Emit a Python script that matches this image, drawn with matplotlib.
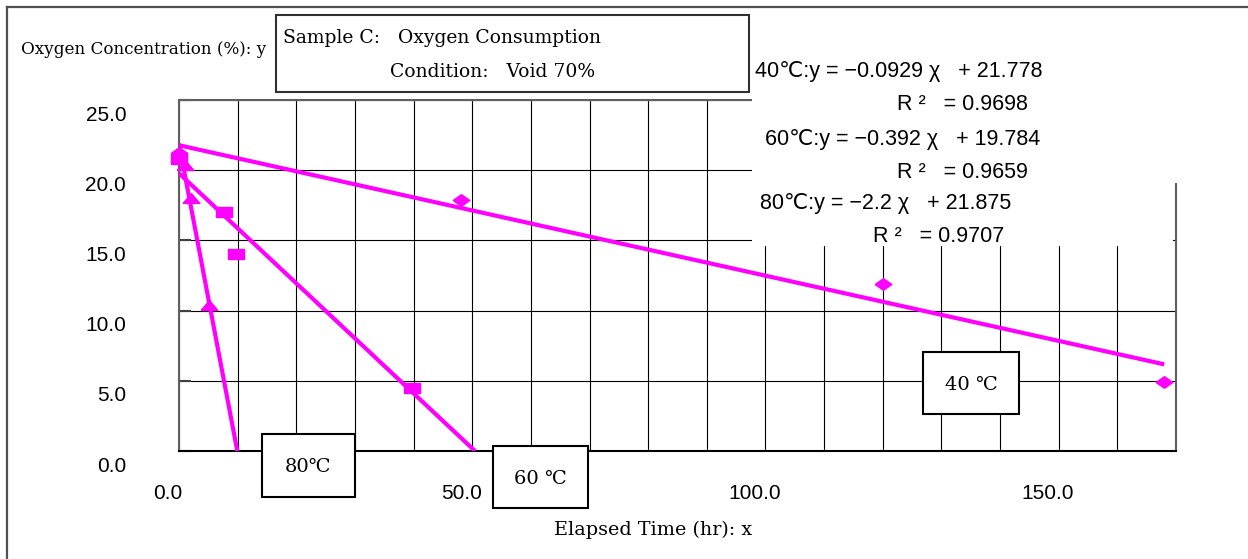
import numpy as np
import matplotlib
matplotlib.use("Agg")
import matplotlib.pyplot as plt
from matplotlib.patches import Rectangle
from matplotlib.lines import Line2D
from matplotlib.path import Path
import matplotlib.transforms as mtransforms

t40 = [0, 48, 120, 168]
o40 = [21.2, 17.9, 11.9, 4.9]
t60 = [0, 7.6, 9.7, 39.7]
o60 = [20.8, 17.0, 14.0, 4.5]
t80 = [1.0, 2.0, 5.1]
o80 = [20.4, 18.0, 10.4]

# trendline coefficients (from the chart equations)
slopes = [-0.0929, -0.392, -2.2]
intercepts = [21.778, 19.784, 21.875]
trend_end = [168, 50.5, 9.95]

x_ticks = [0, 50, 100, 150]
y_ticks = [0, 5, 10, 15, 20, 25]

eq_lines = ["40\u2103:y = \u22120.0929 \u03c7   + 21.778",
            "R \u00b2   = 0.9698",
            "60\u2103:y = \u22120.392 \u03c7   + 19.784",
            "R \u00b2   = 0.9659",
            "80\u2103:y = \u22122.2 \u03c7   + 21.875",
            "R \u00b2   = 0.9707"]

W, H = 1248, 559
magenta = "#FF00FF"
sans = ["Liberation Sans", "DejaVu Sans"]
serif = ["DejaVu Serif", "DejaVu Sans"]

def fx(px):
    return px / W

def fy(py):
    return 1 - py / H

fig = plt.figure(figsize=(W / 100, H / 100), dpi=100)
ax = fig.add_axes([fx(179), fy(451), fx(1176) - fx(179), fy(100) - fy(451)])

# flattened markers like the excel ones
diamond = Path([(-1, 0), (0, 0.7), (1, 0), (0, -0.7), (-1, 0)])
rect = Path([(-1, -0.68), (1, -0.68), (1, 0.68), (-1, 0.68), (-1, -0.68)])
tri = Path([(-1, -0.59), (1, -0.59), (0, 0.59), (-1, -0.59)])

ax.plot(t40, o40, linestyle="none", marker=diamond, markersize=12,
        color=magenta, zorder=4, clip_on=False)
ax.plot(t60, o60, linestyle="none", marker=rect, markersize=11,
        color=magenta, zorder=4, clip_on=False)
ax.plot(t80, o80, linestyle="none", marker=tri, markersize=12,
        color=magenta, zorder=4, clip_on=False)

for m, b, xe in zip(slopes, intercepts, trend_end):
    xs = np.array([0, xe])
    ax.plot(xs, m * xs + b, color=magenta, lw=3, zorder=3,
            solid_capstyle="butt")

ax.set_xlim(0, 170)
ax.set_ylim(0, 25)
ax.set_xticks(x_ticks)
ax.set_xticks(np.arange(0, 171, 10), minor=True)
ax.set_yticks(y_ticks)
ax.set_xticklabels(["%.1f" % v for v in x_ticks], fontsize=15, family=sans)
ax.set_yticklabels(["%.1f" % v for v in y_ticks], fontsize=15, family=sans)
ax.grid(True, which="both", axis="x", color="black", lw=0.8)
ax.grid(True, which="major", axis="y", color="black", lw=0.8)
ax.set_axisbelow(True)
ax.tick_params(axis="x", which="both", length=0, pad=24)
ax.tick_params(axis="y", direction="in", length=8.6, width=1.5,
               color="#404040", pad=38)
for s in ["left", "top", "right"]:
    ax.spines[s].set_color("#606060")
    ax.spines[s].set_linewidth(1.5)
ax.spines["bottom"].set_color("black")
ax.spines["bottom"].set_linewidth(1.5)

dx = mtransforms.ScaledTranslation(-11 / 100, 0, fig.dpi_scale_trans)
for lbl in ax.get_xticklabels():
    lbl.set_transform(lbl.get_transform() + dx)
dy = mtransforms.ScaledTranslation(0, -13 / 100, fig.dpi_scale_trans)
for lbl in ax.get_yticklabels():
    lbl.set_transform(lbl.get_transform() + dy)

# outer frame (runs off the image on the right and bottom)
fig.add_artist(Line2D([fx(7), 1], [fy(7), fy(7)], color="#505050", lw=1.6))
fig.add_artist(Line2D([fx(7), fx(7)], [fy(7), 0], color="#505050", lw=1.6))

# white area behind the trendline equations
fig.add_artist(Rectangle((fx(752), fy(183)), fx(1182) - fx(752), fy(50) - fy(183),
                         transform=fig.transFigure, facecolor="white",
                         edgecolor="none", zorder=2))
fig.add_artist(Rectangle((fx(752), fy(246)), fx(1173) - fx(752), fy(183) - fy(246),
                         transform=fig.transFigure, facecolor="white",
                         edgecolor="none", zorder=2))

eq_pos = [(755, 72), (897, 105), (765, 140), (897, 173), (760, 204), (873, 237)]
for txt, (px, py) in zip(eq_lines, eq_pos):
    fig.text(fx(px), fy(py), txt, ha="left", va="center", fontsize=15.5,
             family=sans, zorder=5)

# title box
fig.add_artist(Rectangle((fx(276), fy(92)), fx(749) - fx(276), fy(15) - fy(92),
                         transform=fig.transFigure, facecolor="white",
                         edgecolor="#303030", lw=1.5, zorder=2))
fig.text(fx(283), fy(38), "Sample C:   Oxygen Consumption", ha="left",
         va="center", fontsize=13.5, family=serif, zorder=5)
fig.text(fx(390), fy(72), "Condition:   Void 70%", ha="left",
         va="center", fontsize=13.5, family=serif, zorder=5)

fig.text(fx(21), fy(49), "Oxygen Concentration (%): y", ha="left",
         va="center", fontsize=12.1, family=serif)
fig.text(fx(554), fy(530), "Elapsed Time (hr): x", ha="left",
         va="center", fontsize=13.8, family=serif)

# temperature label boxes
boxes = [(262, 434, 355, 497, "80\u2103"),
         (493, 446, 588, 508, "60 \u2103"),
         (923, 352, 1019, 414, "40 \u2103")]
for x0, y0, x1, y1, lab in boxes:
    fig.add_artist(Rectangle((fx(x0), fy(y1)), fx(x1) - fx(x0), fy(y0) - fy(y1),
                             transform=fig.transFigure, facecolor="white",
                             edgecolor="black", lw=1.5, zorder=2))
    fig.text(fx((x0 + x1) / 2), fy((y0 + y1) / 2 + 2), lab, ha="center",
             va="center", fontsize=14, family=serif, zorder=5)

fig.savefig("out.png", dpi=100)
